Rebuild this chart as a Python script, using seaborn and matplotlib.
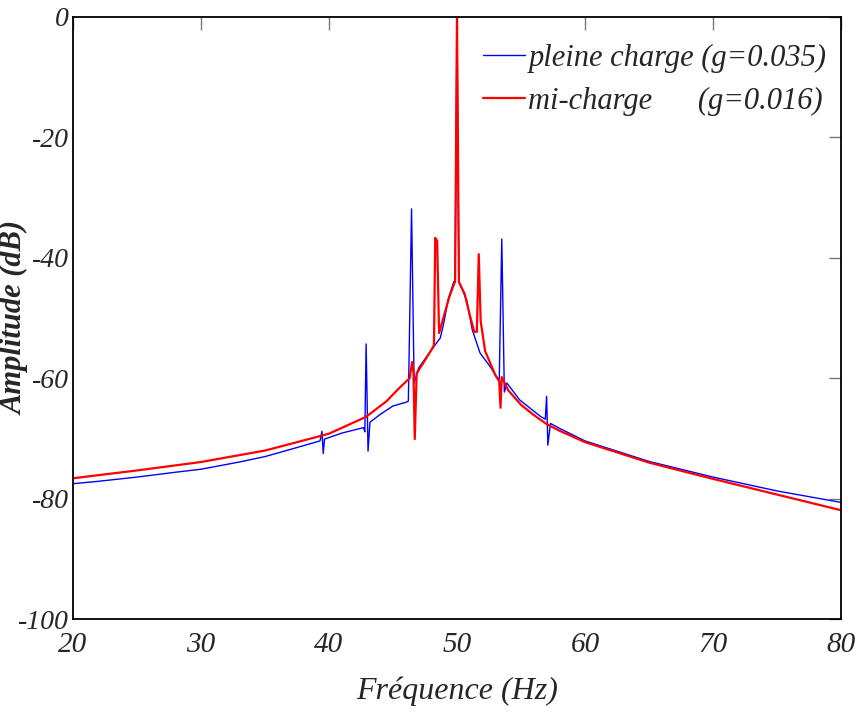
import numpy as np
import pandas as pd
import matplotlib
matplotlib.use("Agg")
import matplotlib.pyplot as plt
import seaborn as sns

# spectre - pleine charge (g=0.035)
freq_pleine = [20.0, 22.0, 25.0, 28.0, 30.0, 33.0, 35.0, 37.0, 39.3, 39.45, 39.55, 39.65,
               41.0, 42.7, 42.8, 42.9, 43.05, 43.2, 44.0, 45.0, 46.0, 46.2, 46.45, 46.65,
               47.0, 47.9, 48.7, 49.0, 49.3, 49.55, 49.75, 49.85, 50.0, 50.15, 50.4, 50.75,
               51.2, 51.8, 52.6, 53.3, 53.5, 53.7, 53.9, 54.9, 56.5, 56.9, 57.0, 57.1,
               57.3, 58.0, 60.0, 65.0, 70.0, 75.0, 80.0]
amp_pleine = [-77.5, -77.1, -76.4, -75.6, -75.1, -73.9, -73.0, -71.8, -70.4, -68.8, -72.5, -70.1,
              -69.1, -68.2, -68.9, -54.3, -72.1, -67.3, -66.0, -64.6, -64.0, -63.8, -31.9, -60.8,
              -58.3, -55.6, -53.3, -50.5, -47.0, -45.3, -44.0, -43.8, 0.0, -44.0, -45.2, -47.0,
              -52.0, -55.8, -58.1, -60.4, -36.9, -62.3, -60.8, -63.6, -66.3, -66.8, -63.0, -71.1,
              -67.5, -68.3, -70.4, -73.8, -76.4, -78.7, -80.6]

# spectre - mi-charge (g=0.016)
freq_mi = [20.0, 25.0, 30.0, 35.0, 37.7, 40.0, 42.9, 44.5, 45.5, 46.3, 46.5, 46.6,
           46.7, 46.85, 47.5, 48.0, 48.2, 48.3, 48.45, 48.6, 49.0, 49.4, 49.8, 49.85,
           50.0, 50.15, 50.6, 51.0, 51.35, 51.55, 51.7, 51.85, 52.2, 52.6, 53.0, 53.3,
           53.4, 53.5, 54.0, 55.0, 56.0, 57.0, 58.0, 60.0, 65.0, 70.0, 75.0, 80.0]
amp_mi = [-76.6, -75.3, -73.9, -72.0, -70.5, -69.2, -66.4, -63.8, -61.6, -60.0, -57.3, -59.0,
          -70.1, -59.2, -57.0, -55.3, -54.5, -36.7, -37.2, -52.5, -49.5, -46.5, -44.2, -44.0,
          0.0, -44.0, -46.0, -49.5, -52.3, -52.3, -39.4, -50.5, -55.5, -57.5, -59.5, -60.5,
          -64.9, -59.8, -62.0, -64.4, -66.1, -67.6, -68.7, -70.6, -74.0, -76.7, -79.3, -81.9]

label_pleine = "pleine charge (g=0.035)"
label_mi = "mi-charge      (g=0.016)"

x_ticks = [20, 30, 40, 50, 60, 70, 80]
y_ticks = [-100, -80, -60, -40, -20, 0]

sns.set_style("white")
plt.rcParams['font.family'] = ['Liberation Serif', 'DejaVu Serif']
plt.rcParams['font.style'] = 'italic'

fig = plt.figure(figsize=(8.59, 7.26), dpi=100)
ax = fig.add_axes([0.085, 0.147, 0.894, 0.830])

df_pleine = pd.DataFrame({'f': freq_pleine, 'a': amp_pleine})
df_mi = pd.DataFrame({'f': freq_mi, 'a': amp_mi})

sns.lineplot(data=df_pleine, x='f', y='a', ax=ax, color='blue', linewidth=1.0,
             sort=False, estimator=None, label=label_pleine)
sns.lineplot(data=df_mi, x='f', y='a', ax=ax, color='red', linewidth=1.6,
             sort=False, estimator=None, label=label_mi)

ax.set_xlim(20, 80)
ax.set_ylim(-100, 0)
ax.set_xticks(x_ticks)
ax.set_yticks(y_ticks)
ax.set_xticklabels([str(t) for t in x_ticks], fontsize=21, style='italic')
ax.set_yticklabels([str(t) for t in y_ticks], fontsize=20, style='italic')
ax.tick_params(direction='in', length=9, width=1, color='#777777',
               top=True, right=True, pad=3)
ax.tick_params(axis='x', pad=9)

for s in ax.spines.values():
    s.set_color('black')
    s.set_linewidth(1.3)

ax.set_xlabel("Fréquence (Hz)", fontsize=23, style='italic')
ax.xaxis.set_label_coords(0.5, -0.095)
ax.set_ylabel("Amplitude (dB)", fontsize=22, style='italic', fontweight='bold')
ax.yaxis.set_label_coords(-0.057, 0.5)

ax.legend(loc='upper right', bbox_to_anchor=(1.005, 0.985), frameon=False,
          fontsize=22, handlelength=1.4, handletextpad=0.1, labelspacing=0.45,
          borderaxespad=0.2)

fig.savefig("out.png", dpi=100)
